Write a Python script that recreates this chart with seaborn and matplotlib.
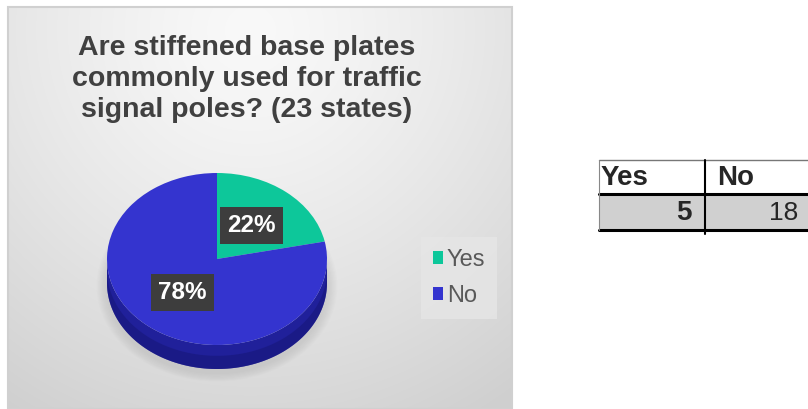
import numpy as np
import matplotlib
matplotlib.use("Agg")
import matplotlib.pyplot as plt
from matplotlib.patches import Rectangle, Polygon, Ellipse
import seaborn as sns

# ==============================
# DATA
# ==============================
title = "Are stiffened base plates\ncommonly used for traffic\nsignal poles? (23 states)"
answers = ["Yes", "No"]
counts = [5, 18]
slice_colors = ["#0DC79A", "#3434CF"]
side_colors = ["#08876a", "#20209A"]

sns.set_style("white")
plt.rcParams["font.family"] = ["Liberation Sans", "DejaVu Sans"]

W, H = 808, 409
fig = plt.figure(figsize=(W / 100, H / 100), dpi=100)

# background axes in pixel coordinates
bg = fig.add_axes([0, 0, 1, 1])
bg.set_xlim(0, W)
bg.set_ylim(H, 0)
bg.axis("off")

# chart panel with radial gradient
px0, px1, py0, py1 = 8, 512, 7, 409
yy, xx = np.mgrid[py0:py1, px0:px1]
r = np.hypot(xx - 250, yy - 30)
shade = 249 - 42 * np.clip(r / 450, 0, 1) ** 1.3
img = np.dstack([shade, shade, shade]) / 255
bg.imshow(img, extent=(px0, px1, py1, py0), zorder=0, aspect="auto")
bg.add_patch(Rectangle((px0, py0), px1 - px0, py1 - py0, fill=False,
                       edgecolor="#d0d0d0", lw=1.5, zorder=1))

bg.text(247, 79, title, ha="center", va="center", fontsize=20.5,
        fontweight="bold", color="#404040", linespacing=1.25, zorder=2)

# soft shadow under the pie
for k in range(8):
    s = 1 + k * 0.012
    bg.add_patch(Ellipse((217, 286), 222 * s, 176 * s,
                         facecolor="#9a9a9a", alpha=0.035, lw=0, zorder=1))

# ==============================
# PIE (3D look)
# ==============================
cx, cy, rx, ry, depth = 217, 259, 110, 86, 24
d = depth / ry
pie_ax = fig.add_axes([(cx - rx) / W, 1 - (cy + ry + depth) / H,
                       2 * rx / W, (2 * ry + depth) / H])
pie_ax.patch.set_alpha(0)

wedges, _, autotexts = pie_ax.pie(
    counts, colors=slice_colors, startangle=90, counterclock=False,
    autopct=lambda p: f"{p:.0f}%", pctdistance=0.5, radius=1,
    textprops=dict(color="white", fontsize=17.5, fontweight="bold"),
    wedgeprops=dict(lw=0))

# side walls of the lower half
for w, col in zip(wedges, side_colors):
    a0, a1 = sorted([w.theta1, w.theta2])
    for shift in (0, 360, -360):
        lo, hi = max(a0 + shift, 180), min(a1 + shift, 360)
        if hi > lo:
            t = np.radians(np.linspace(lo, hi, 120))
            top = np.column_stack([np.cos(t), np.sin(t)])
            bot = top[::-1] - [0, d]
            pie_ax.add_patch(Polygon(np.vstack([top, bot]), closed=True,
                                     facecolor=col, lw=0, zorder=0))
            # darker rim at the bottom
            pie_ax.add_patch(Polygon(np.vstack([top - [0, d * 0.45], top[::-1] - [0, d]]),
                                     closed=True, facecolor="#17177a", lw=0,
                                     zorder=0, alpha=0.6))
for w in wedges:
    w.set_zorder(1)

pie_ax.set_aspect("auto")
pie_ax.set_xlim(-1, 1)
pie_ax.set_ylim(-1 - d, 1)
pie_ax.axis("off")

for t in autotexts:
    t.set_zorder(3)
    t.set_bbox(dict(facecolor="#3d3d3d", edgecolor="none", pad=5))

leg = pie_ax.legend(wedges, answers, loc="center", bbox_to_anchor=(459 / W, 1 - 278 / H),
                    bbox_transform=fig.transFigure, frameon=True, fontsize=17,
                    handlelength=0.45, handleheight=0.45, handletextpad=0.15,
                    labelspacing=0.6, borderpad=0.5, fancybox=False)
leg.get_frame().set_facecolor("#e6e6e6")
leg.get_frame().set_edgecolor("none")
for txt in leg.get_texts():
    txt.set_color("#595959")

# ==============================
# TABLE
# ==============================
tx0, tmid, tx1 = 599, 705, W
ty0, tym, ty1 = 160, 194, 230
bg.add_patch(Rectangle((tx0, tym), tx1 - tx0, ty1 - tym, facecolor="#d0d0d0",
                       edgecolor="none", zorder=2))
bg.plot([tx0, tx1], [ty0, ty0], color="#777777", lw=1, zorder=3)
bg.plot([tx0, tx1], [tym, tym], color="black", lw=2.2, zorder=3)
bg.plot([tx0, tx1], [ty1, ty1], color="black", lw=2.2, zorder=3)
bg.plot([tx0, tx0], [ty0, ty1], color="#888888", lw=0.8, zorder=3)
bg.plot([tmid, tmid], [ty0, ty1 + 4], color="black", lw=1.5, zorder=3)

bg.text(tx0 + 2, (ty0 + tym) / 2 + 1, answers[0], ha="left", va="center",
        fontsize=20, fontweight="bold", zorder=4)
bg.text(tmid + 12, (ty0 + tym) / 2 + 1, answers[1], ha="left", va="center",
        fontsize=20, fontweight="bold", zorder=4)
bg.text(tmid - 13, (tym + ty1) / 2 + 1, str(counts[0]), ha="right", va="center",
        fontsize=20, fontweight="bold", zorder=4)
bg.text(tx1 - 10, (tym + ty1) / 2 + 1, str(counts[1]), ha="right", va="center",
        fontsize=19, zorder=4)

fig.savefig("out.png", dpi=100)
